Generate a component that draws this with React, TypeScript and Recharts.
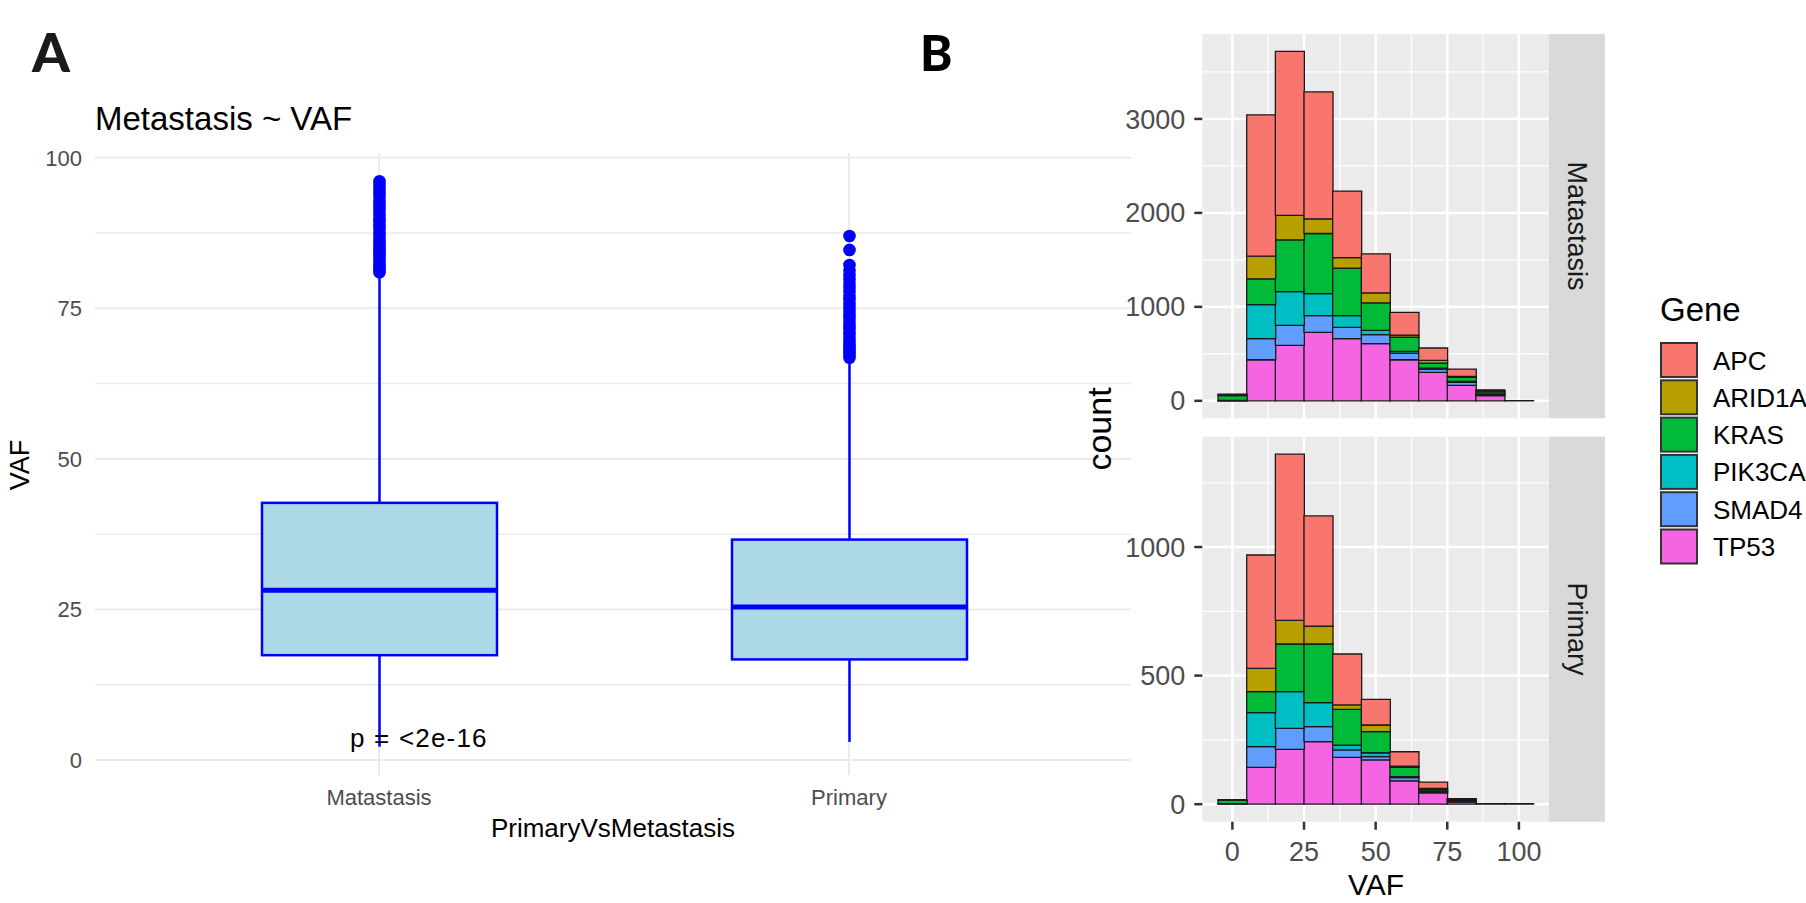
import { Bar, BarChart, CartesianGrid, ComposedChart, XAxis, YAxis } from 'recharts';

const FONT = '"Liberation Sans", Arial, sans-serif';

// Panel A: box plot of VAF by group
const groups = ['Matastasis', 'Primary'];
const whiskerLow = [2.2, 3.0];
const boxLow = [17.4, 16.7];
const medians = [28.2, 25.4];
const boxHigh = [42.7, 36.6];
const whiskerHigh = [80.6, 66.5];
const metOutliers = [
  81.0, 81.3, 81.6, 82.0, 82.4, 82.9, 83.3, 83.8, 84.2, 84.7, 85.1, 85.6, 86.0, 86.5, 87.1, 87.6,
  88.2, 88.7, 89.3, 89.8, 90.4, 90.9, 91.5, 92.1, 92.6, 93.2, 93.8, 94.3, 94.9, 95.5, 96.1,
];
const priOutliers = [
  66.8, 67.2, 67.7, 68.1, 68.6, 69.0, 69.5, 70.0, 70.6, 71.1, 71.7, 72.2, 72.8, 73.4, 74.0, 74.6,
  75.2, 75.8, 76.5, 77.1, 77.8, 78.4, 79.1, 79.8, 80.5, 81.3, 82.2, 84.7, 87.0,
];
const vafTicks = [0, 25, 50, 75, 100];
const vafMinor = [12.5, 37.5, 62.5, 87.5];

// Panel B: stacked histogram, binwidth 10
const bins = [0, 10, 20, 30, 40, 50, 60, 70, 80, 90, 100];
const genes = ['APC', 'ARID1A', 'KRAS', 'PIK3CA', 'SMAD4', 'TP53'];
const geneColors = ['#F8766D', '#B79F00', '#00BA38', '#00BFC4', '#619CFF', '#F564E3'];

const metAPC = [10, 1504, 1745, 1351, 707, 416, 242, 132, 78, 14, 0];
const metARID1A = [5, 241, 260, 156, 114, 106, 21, 28, 11, 8, 0];
const metKRAS = [50, 274, 551, 640, 505, 292, 153, 54, 43, 20, 0];
const metPIK3CA = [3, 363, 359, 235, 124, 46, 18, 10, 10, 8, 0];
const metSMAD4 = [1, 224, 213, 177, 121, 96, 71, 36, 32, 12, 0];
const metTP53 = [1, 437, 590, 729, 661, 608, 437, 302, 164, 55, 2];

const priAPC = [2, 441, 646, 429, 198, 100, 56, 25, 2, 0, 0];
const priARID1A = [0, 90, 92, 69, 17, 26, 5, 4, 3, 0, 0];
const priKRAS = [14, 82, 185, 228, 139, 82, 36, 6, 4, 0, 0];
const priPIK3CA = [1, 132, 143, 93, 19, 15, 4, 3, 2, 0, 0];
const priSMAD4 = [0, 81, 82, 59, 29, 13, 12, 4, 3, 0, 0];
const priTP53 = [1, 143, 213, 243, 182, 172, 91, 44, 8, 2, 2];

const metTicks = [0, 1000, 2000, 3000];
const metMinor = [500, 1500, 2500, 3500];
const priTicks = [0, 500, 1000];
const priMinor = [250, 750, 1250];

const boxData = groups.map((g, i) => ({
  group: g,
  lo: whiskerLow[i],
  q1: boxLow[i],
  med: medians[i],
  q3: boxHigh[i],
  hi: whiskerHigh[i],
  outliers: i === 0 ? metOutliers : priOutliers,
}));

const allVaf = [...whiskerLow, ...metOutliers, ...priOutliers];
const vafMin = Math.min(...allVaf);
const vafMax = Math.max(...allVaf);
const vafPad = (vafMax - vafMin) * 0.05;

function histRows(apc: number[], arid: number[], kras: number[], pik: number[], smad: number[], tp53: number[]) {
  return bins.map((b, i) => ({
    bin: String(b),
    mid: b,
    APC: apc[i],
    ARID1A: arid[i],
    KRAS: kras[i],
    PIK3CA: pik[i],
    SMAD4: smad[i],
    TP53: tp53[i],
  }));
}

const metRows = histRows(metAPC, metARID1A, metKRAS, metPIK3CA, metSMAD4, metTP53);
const priRows = histRows(priAPC, priARID1A, priKRAS, priPIK3CA, priSMAD4, priTP53);

const stackMax = (rows: any[]) => Math.max(...rows.map(r => genes.reduce((s, g) => s + r[g], 0)));

function BoxShape(props: any) {
  const { x, y, width, height, payload } = props;
  const top = Math.min(y, y + height);
  const unit = Math.abs(height) / (payload.hi - payload.lo);
  const py = (v: number) => top + (payload.hi - v) * unit;
  const cx = x + width / 2;
  return (
    <g>
      <line x1={cx} x2={cx} y1={py(payload.hi)} y2={py(payload.q3)} stroke="#0000ff" strokeWidth={2.5} />
      <line x1={cx} x2={cx} y1={py(payload.q1)} y2={py(payload.lo)} stroke="#0000ff" strokeWidth={2.5} />
      <rect
        x={x}
        y={py(payload.q3)}
        width={width}
        height={py(payload.q1) - py(payload.q3)}
        fill="#add8e6"
        stroke="#0000ff"
        strokeWidth={2.5}
      />
      <line x1={x} x2={x + width} y1={py(payload.med)} y2={py(payload.med)} stroke="#0000ff" strokeWidth={5} />
      {payload.outliers.map((v: number, k: number) => (
        <circle key={k} cx={cx} cy={py(v)} r={6.3} fill="#0000ff" />
      ))}
    </g>
  );
}

const tickA = { fill: '#4d4d4d', fontSize: 22, fontFamily: FONT };
const tickB = { fill: '#4d4d4d', fontSize: 27, fontFamily: FONT };

function Histogram({ rows, ticks, minor, showX, height, margin }: any) {
  const max = stackMax(rows);
  const order = ['TP53', 'SMAD4', 'PIK3CA', 'KRAS', 'ARID1A', 'APC'];
  return (
    <BarChart width={449} height={height} data={rows} margin={margin} barCategoryGap={0} barGap={0}>
      <CartesianGrid
        xAxisId="v"
        horizontalValues={ticks}
        verticalValues={vafTicks}
        fill="#ebebeb"
        stroke="#ffffff"
        strokeWidth={2.5}
      />
      <CartesianGrid
        xAxisId="v"
        horizontalValues={minor}
        verticalValues={vafMinor}
        stroke="#ffffff"
        strokeWidth={1.2}
      />
      <XAxis xAxisId="bin" dataKey="bin" type="category" hide height={0} padding={{ left: 15.76, right: 15.76 }} />
      <XAxis
        xAxisId="v"
        dataKey="mid"
        type="number"
        domain={[-10.5, 110.5]}
        allowDataOverflow
        ticks={vafTicks}
        hide={!showX}
        height={50}
        axisLine={false}
        tickSize={8}
        tickMargin={12}
        tickLine={{ stroke: '#333333', strokeWidth: 2.5 }}
        tick={tickB}
      />
      <YAxis
        width={100}
        type="number"
        domain={[-0.05 * max, 1.05 * max]}
        allowDataOverflow
        ticks={ticks}
        axisLine={false}
        tickSize={8}
        tickMargin={9}
        tickLine={{ stroke: '#333333', strokeWidth: 2.5 }}
        tick={tickB}
      />
      {order.map(g => (
        <Bar
          key={g}
          xAxisId="bin"
          dataKey={g}
          stackId="s"
          fill={geneColors[genes.indexOf(g)]}
          stroke="#1a1a1a"
          strokeWidth={1.3}
          isAnimationActive={false}
        />
      ))}
    </BarChart>
  );
}

export default function App() {
  return (
    <div style={{ position: 'absolute', left: 0, top: 0, width: 1806, height: 903, background: '#fff', overflow: 'hidden' }}>
      <div style={{ position: 'absolute', left: 0, top: 0 }}>
        <ComposedChart
          width={1140}
          height={903}
          data={boxData}
          margin={{ top: 153, right: 9, left: 35, bottom: 88 }}
        >
          <CartesianGrid horizontalValues={vafTicks} verticalValues={groups} stroke="#ebebeb" strokeWidth={2} />
          <CartesianGrid horizontalValues={vafMinor} vertical={false} stroke="#ebebeb" strokeWidth={1.5} />
          <XAxis
            dataKey="group"
            type="category"
            height={40}
            padding={{ left: 49, right: 47 }}
            axisLine={false}
            tickLine={false}
            tickSize={0}
            tickMargin={14}
            tick={tickA}
          />
          <YAxis
            width={60}
            type="number"
            domain={[vafMin - vafPad, vafMax + vafPad]}
            allowDataOverflow
            ticks={vafTicks}
            axisLine={false}
            tickLine={false}
            tickSize={0}
            tickMargin={13}
            tick={tickA}
          />
          <Bar
            dataKey={(d: any) => [d.lo, d.hi]}
            barSize={235}
            shape={BoxShape}
            isAnimationActive={false}
          />
        </ComposedChart>
      </div>

      <div style={{ position: 'absolute', left: 1100, top: 0 }}>
        <Histogram
          rows={metRows}
          ticks={metTicks}
          minor={metMinor}
          showX={false}
          height={430}
          margin={{ top: 34, right: 0, left: 2.3, bottom: 11.7 }}
        />
      </div>
      <div style={{ position: 'absolute', left: 1100, top: 430 }}>
        <Histogram
          rows={priRows}
          ticks={priTicks}
          minor={priMinor}
          showX={true}
          height={473}
          margin={{ top: 6.7, right: 0, left: 2.3, bottom: 31.3 }}
        />
      </div>

      <svg width={1806} height={903} style={{ position: 'absolute', left: 0, top: 0, pointerEvents: 'none' }}>
        <text x={32} y={72} fontFamily="Lato, sans-serif" fontWeight={900} fontSize={54} fill="#1a1a1a">A</text>
        <text x={920} y={71} fontFamily="Lato, sans-serif" fontWeight={900} fontSize={49} fill="#000">B</text>

        <text x={95} y={130} fontFamily={FONT} fontSize={33} fill="#000">Metastasis ~ VAF</text>
        <text
          x={20}
          y={465}
          transform="rotate(-90, 20, 465)"
          textAnchor="middle"
          dominantBaseline="central"
          fontFamily={FONT}
          fontSize={27}
          fill="#000"
        >
          VAF
        </text>
        <text x={350} y={747} fontFamily={FONT} fontSize={26} letterSpacing={1.2} fill="#000">p = &lt;2e-16</text>
        <text x={613} y={837} textAnchor="middle" fontFamily={FONT} fontSize={26} fill="#000">PrimaryVsMetastasis</text>

        <text
          x={1099}
          y={429}
          transform="rotate(-90, 1099, 429)"
          textAnchor="middle"
          dominantBaseline="central"
          fontFamily={FONT}
          fontSize={34}
          fill="#000"
        >
          count
        </text>
        <text x={1376} y={895} textAnchor="middle" fontFamily={FONT} fontSize={30} fill="#000">VAF</text>

        <rect x={1549} y={34} width={56} height={384.3} fill="#d9d9d9" />
        <rect x={1549} y={436.7} width={56} height={385} fill="#d9d9d9" />
        <text
          x={1577}
          y={226}
          transform="rotate(90, 1577, 226)"
          textAnchor="middle"
          dominantBaseline="central"
          fontFamily={FONT}
          fontSize={27}
          fill="#1a1a1a"
        >
          Matastasis
        </text>
        <text
          x={1577}
          y={629}
          transform="rotate(90, 1577, 629)"
          textAnchor="middle"
          dominantBaseline="central"
          fontFamily={FONT}
          fontSize={27}
          fill="#1a1a1a"
        >
          Primary
        </text>

        <text x={1660} y={321} fontFamily={FONT} fontSize={33} fill="#000">Gene</text>
        {genes.map((g, i) => (
          <g key={g}>
            <rect x={1661} y={343 + i * 37.3} width={36} height={34} fill={geneColors[i]} stroke="#333333" strokeWidth={2} />
            <text x={1713} y={369.5 + i * 37.3} fontFamily={FONT} fontSize={26} fill="#000">{g}</text>
          </g>
        ))}
      </svg>
    </div>
  );
}
